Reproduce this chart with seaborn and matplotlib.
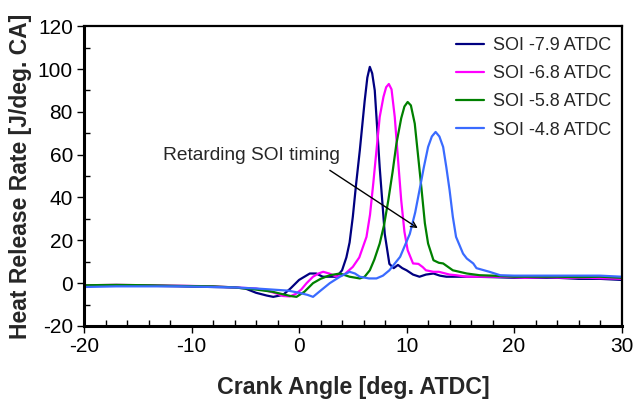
import numpy as np
import pandas as pd
import matplotlib
matplotlib.use("Agg")
import matplotlib.pyplot as plt
from matplotlib.ticker import MultipleLocator
import seaborn as sns

labels = ["SOI -7.9 ATDC", "SOI -6.8 ATDC", "SOI -5.8 ATDC", "SOI -4.8 ATDC"]
colors = ["#000080", "#FF00FF", "#008000", "#3A6BFF"]

x_79 = [-20, -17, -14, -11, -8, -6, -5, -4, -3, -2.4, -1.5, -0.8, 0, 0.5, 1.0, 1.6, 2.2, 2.8, 3.5, 4.0,
        4.4, 4.7, 5.0, 5.3, 5.65, 6.1, 6.35, 6.58, 6.8, 7.04, 7.5, 7.97, 8.4, 8.8, 9.2, 9.6, 10, 10.6,
        11.2, 11.8, 12.5, 13.1, 13.7, 15, 16.2, 18, 20, 22, 24, 26, 28, 30]
y_79 = [-1, -1, -1.2, -1.5, -1.8, -2, -2.5, -4.5, -5.8, -6.4, -5.5, -2.5, 1.5, 3, 4.5, 4.5, 3, 3, 3, 6,
        12, 19, 31, 46, 62, 85, 96, 101, 98, 90, 54, 23, 9, 7, 8.5, 7, 6, 4,
        3, 4, 4.5, 3.5, 3, 3, 3, 2.8, 2.5, 2.5, 2.5, 2, 2, 1.5]

x_68 = [-20, -17, -14, -11, -8, -6, -4, -3, -2, -1.5, -0.85, -0.3, 0.2, 0.7, 1.3, 1.8, 2.24, 2.8, 3.5, 4.2,
        5.0, 5.6, 6.27, 6.6, 6.9, 7.2, 7.5, 7.85, 8.1, 8.35, 8.6, 8.9, 9.2, 9.5, 9.8, 10.1, 10.6, 11.1,
        11.5, 11.8, 12.5, 13.0, 14.0, 14.6, 15.6, 17, 19, 21, 23, 25, 27, 30]
y_68 = [-1, -0.8, -1, -1.2, -1.5, -2, -2.5, -3.5, -5, -6, -6.2, -5, -3, 0, 3, 4.5, 5.3, 4.5, 3, 4,
        7.6, 12, 21.6, 32, 46.5, 62, 77.6, 87, 91.5, 93, 90.5, 77.6, 58, 38.7, 24, 15.4, 9.2, 9,
        7.5, 6, 5.3, 5.3, 4, 3.7, 3, 3, 3, 2.5, 2.8, 2.5, 2.5, 2]

x_58 = [-20, -17, -14, -11, -8, -6, -4, -2.5, -1.5, -0.8, -0.24, 0.5, 1.3, 2.0, 2.86, 3.8, 4.7, 5.65, 6.1,
        6.58, 7.0, 7.5, 7.9, 8.3, 8.7, 9.05, 9.5, 9.8, 10.1, 10.4, 10.76, 11.1, 11.4, 11.7, 12.0, 12.5,
        13.0, 13.4, 14.3, 15.6, 16.8, 18, 20, 22, 24, 26, 28, 30]
y_58 = [-1, -0.8, -1, -1.3, -1.5, -2, -3, -4, -5.2, -6, -6.4, -4, 0, 2, 3.7, 4.5, 3, 2.2, 3,
        6, 11, 18.5, 27, 38.7, 52, 65, 77, 82.5, 84.6, 83, 74.5, 58, 43.4, 28, 18.5, 10.7,
        9.5, 9.2, 6, 4.5, 3.7, 3.5, 3, 3, 3, 2.8, 3, 2.5]

x_48 = [-20, -17, -14, -11, -8, -6, -4, -2.5, -1, 0, 0.8, 1.3, 2.0, 2.86, 3.8, 4.7, 5.2, 5.65, 6.5, 7.2,
        7.8, 8.4, 9.4, 10.3, 10.8, 11.2, 11.6, 12.0, 12.35, 12.7, 13.05, 13.4, 13.7, 14.0, 14.3, 14.6,
        15.25, 15.6, 16.2, 16.5, 17.7, 18.7, 20, 22, 24, 26, 28, 30]
y_48 = [-1.8, -1.5, -1.5, -1.5, -1.8, -2, -2.5, -3, -3.5, -4.5, -5.5, -6.4, -3.5, 0, 3, 5.3, 4.5, 3, 2.2, 2.2,
        3.5, 6, 12.3, 23, 33, 43.4, 54, 63.6, 68.5, 70.6, 68.5, 63.6, 54, 43.4, 31, 21.6,
        13.8, 11.5, 9.2, 7, 5.3, 3.7, 3.5, 3.5, 3.5, 3.5, 3.5, 3]

xs = [x_79, x_68, x_58, x_48]
ys = [y_79, y_68, y_58, y_48]
df = pd.concat([pd.DataFrame({"x": xv, "y": yv, "series": lab}) for xv, yv, lab in zip(xs, ys, labels)],
               ignore_index=True)

sns.set_style("white")
plt.rcParams["font.family"] = ["Liberation Sans", "DejaVu Sans"]
plt.rcParams["axes.unicode_minus"] = False

fig = plt.figure(figsize=(6.34, 4.09), dpi=100)
ax = fig.add_axes([0.1325, 0.203, 0.848, 0.733])
sns.lineplot(data=df, x="x", y="y", hue="series", hue_order=labels, palette=colors,
             linewidth=1.6, ax=ax, sort=False, estimator=None)

ax.set_xlim(-20, 30)
ax.set_ylim(-20, 120)
ax.xaxis.set_major_locator(MultipleLocator(10))
ax.xaxis.set_minor_locator(MultipleLocator(2))
ax.yaxis.set_major_locator(MultipleLocator(20))
ax.yaxis.set_minor_locator(MultipleLocator(10))
ax.tick_params(axis="both", which="major", direction="out", length=5, width=1, labelsize=15,
               color="black", labelcolor="black", left=True, bottom=True, pad=3)
ax.tick_params(axis="both", which="minor", direction="in", length=4, width=1,
               color="black", left=True, bottom=True)
for side in ["left", "bottom"]:
    ax.spines[side].set_linewidth(2.2)
for side in ["top", "right"]:
    ax.spines[side].set_linewidth(1.6)
for s in ax.spines.values():
    s.set_color("black")
    s.set_visible(True)

ax.set_xlabel("Crank Angle [deg. ATDC]", fontsize=16.7, fontweight="bold", labelpad=14)
ax.set_ylabel("Heat Release Rate [J/deg. CA]", fontsize=16.5, fontweight="bold", labelpad=4)

ax.text(3.79, 59.7, "Retarding SOI timing", fontsize=13.8, ha="right", va="center")
ax.annotate("", xy=(11.04, 25.7), xytext=(2.86, 52.7),
            arrowprops=dict(arrowstyle="->", color="black", lw=1, shrinkA=0, shrinkB=0))

leg = ax.legend(loc="upper right", frameon=False, fontsize=13, handlelength=1.55,
                labelspacing=0.62, handletextpad=0.45, borderaxespad=0.2)
for line in leg.get_lines():
    line.set_linewidth(1.6)

fig.savefig("out.png", dpi=100)
